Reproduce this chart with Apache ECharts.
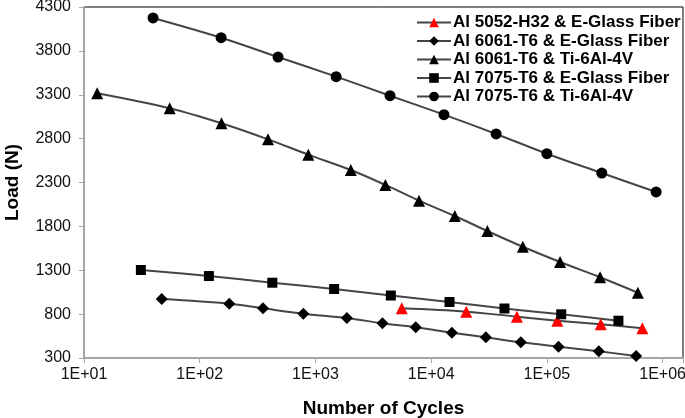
<!DOCTYPE html>
<html>
<head>
<meta charset="utf-8">
<script src="https://cdn.jsdelivr.net/npm/echarts@6/dist/echarts.min.js"></script>
<style>
html,body{margin:0;padding:0;background:#fff;}
#c{width:685px;height:418px;}
</style>
</head>
<body>
<div id="c"></div>
<script>
// ---- Data ----
const seriesNames = [
  'Al 5052-H32 & E-Glass Fiber',
  'Al 6061-T6 & E-Glass Fiber',
  'Al 6061-T6 & Ti-6Al-4V',
  'Al 7075-T6 & E-Glass Fiber',
  'Al 7075-T6 & Ti-6Al-4V'
];
// Al 5052-H32 & E-Glass Fiber
const cycles5052Glass = [5570, 20100, 55000, 123000, 292000, 668000];
const load5052Glass   = [866, 828, 771, 725, 684, 638];
// Al 6061-T6 & E-Glass Fiber
const cycles6061Glass = [47, 180, 352, 786, 1870, 3790, 7360, 15100, 29700, 59500, 126000, 281000, 590000];
const load6061Glass   = [972, 919, 866, 805, 756, 695, 650, 588, 536, 479, 429, 376, 323];
// Al 6061-T6 & Ti-6Al-4V
const cycles6061Ti = [13, 55, 154, 389, 868, 2020, 4020, 7850, 16000, 30600, 61900, 130000, 288000, 611000];
const load6061Ti   = [3317, 3146, 2975, 2792, 2617, 2442, 2272, 2093, 1918, 1747, 1568, 1394, 1220, 1044];
// Al 7075-T6 & E-Glass Fiber
const cycles7075Glass = [31, 120, 424, 1450, 4480, 14400, 43000, 133000, 415000];
const load7075Glass   = [1303, 1234, 1158, 1086, 1012, 938, 864, 798, 725];
// Al 7075-T6 & Ti-6Al-4V
const cycles7075Ti = [39.5, 153, 475, 1510, 4410, 12900, 36400, 100000, 298000, 879000];
const load7075Ti   = [4175, 3950, 3730, 3506, 3289, 3073, 2853, 2628, 2408, 2192];

const yTicks = [300, 800, 1300, 1800, 2300, 2800, 3300, 3800, 4300];
const xTickLabels = ['1E+01', '1E+02', '1E+03', '1E+04', '1E+05', '1E+06'];

function pairs(xs, ys) { return xs.map((x, i) => [x, ys[i]]); }

const FONT = 'Liberation Sans, Arial, sans-serif';
const LINE_COLOR = '#454545';

function mk(name, xs, ys, symbol, size, color) {
  return {
    name: name,
    type: 'line',
    data: pairs(xs, ys),
    smooth: 0.35,
    symbol: symbol,
    symbolSize: size,
    showAllSymbol: true,
    lineStyle: { color: LINE_COLOR, width: 2 },
    itemStyle: { color: color, borderWidth: 0 },
    emphasis: { disabled: true },
    z: 3
  };
}

const chart = echarts.init(document.getElementById('c'), null, { renderer: 'canvas' });
chart.setOption({
  animation: false,
  backgroundColor: '#fff',
  grid: {
    left: 84, right: 2, top: 7, bottom: 60,
    containLabel: false,
    outerBoundsMode: 'none',
    show: true, borderColor: '#000', borderWidth: 1, backgroundColor: 'transparent'
  },
  legend: {
    orient: 'vertical',
    left: 411,
    top: 9,
    itemWidth: 34,
    itemHeight: 12,
    itemGap: 1.5,
    data: seriesNames,
    textStyle: { fontFamily: FONT, fontSize: 17, fontWeight: 'bold', color: '#000', padding: [0, 0, 0, -3] }
  },
  xAxis: {
    type: 'log',
    logBase: 10,
    min: 10,
    max: 1.5e6,
    name: 'Number of Cycles',
    nameLocation: 'middle',
    nameGap: 41,
    nameTextStyle: { fontFamily: FONT, fontSize: 19, fontWeight: 'bold', color: '#000' },
    axisLine: { lineStyle: { color: '#a6a6a6', width: 2 } },
    axisTick: { show: true, length: 5, lineStyle: { color: '#a6a6a6', width: 1 } },
    axisLabel: {
      fontFamily: FONT, fontSize: 16, color: '#111', margin: 9,
      formatter: function (v) {
        const e = Math.round(Math.log10(v));
        if (Math.abs(Math.log10(v) - e) > 1e-6) return '';
        return xTickLabels[e - 1] || '';
      }
    },
    splitLine: { show: false },
    minorTick: { show: false }
  },
  yAxis: {
    type: 'value',
    min: yTicks[0],
    max: yTicks[yTicks.length - 1],
    interval: yTicks[1] - yTicks[0],
    name: 'Load (N)',
    nameLocation: 'middle',
    nameGap: 62,
    nameTextStyle: { fontFamily: FONT, fontSize: 19, fontWeight: 'bold', color: '#000' },
    axisLine: { show: true, lineStyle: { color: '#a6a6a6', width: 2 } },
    axisTick: { show: true, length: 5, lineStyle: { color: '#a6a6a6', width: 1 } },
    axisLabel: {
      fontFamily: FONT, fontSize: 16, color: '#111', margin: 13,
      formatter: function (v) { return String(v); }
    },
    splitLine: { show: false }
  },
  series: [
    mk(seriesNames[0], cycles5052Glass, load5052Glass, 'triangle', 12, '#ff0000'),
    mk(seriesNames[1], cycles6061Glass, load6061Glass, 'diamond', 12, '#000'),
    mk(seriesNames[2], cycles6061Ti, load6061Ti, 'triangle', 12, '#000'),
    mk(seriesNames[3], cycles7075Glass, load7075Glass, 'rect', 10, '#000'),
    mk(seriesNames[4], cycles7075Ti, load7075Ti, 'circle', 11, '#000')
  ]
});
</script>
</body>
</html>
